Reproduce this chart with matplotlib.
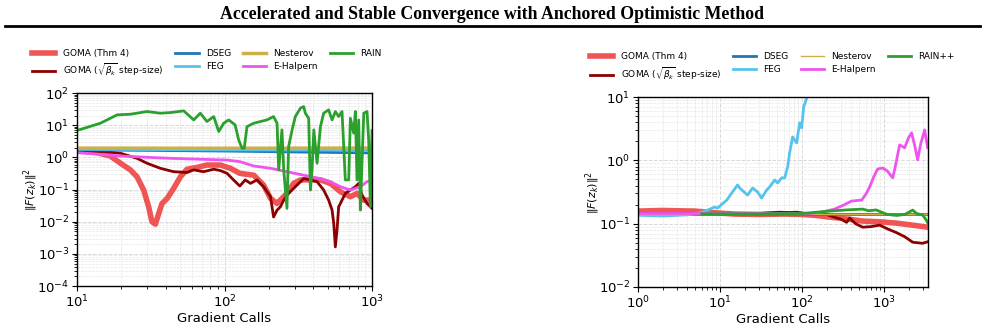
import numpy as np
import matplotlib
matplotlib.use("Agg")
import matplotlib.pyplot as plt
from matplotlib.lines import Line2D

# ---- left panel: gradient calls vs ||F(z_k)||^2 ----
L_goma_x = [10, 13.7, 16.8, 19.7, 23, 25.5, 28.3, 30.6, 32.2, 34, 35.8, 37.7, 40.8, 45.2, 50.2,
            55.7, 65.1, 76, 93.7, 109.6, 127, 158, 184, 205, 227, 252, 265, 294, 327, 382,
            447, 522, 610, 713, 791, 879, 1000]
L_goma_y = [1.63, 1.41, 1.11, 0.66, 0.41, 0.25, 0.097, 0.029, 0.010, 0.0084, 0.018, 0.037, 0.053,
            0.109, 0.25, 0.43, 0.49, 0.58, 0.58, 0.46, 0.32, 0.28, 0.138, 0.053, 0.037, 0.060,
            0.076, 0.156, 0.20, 0.20, 0.20, 0.156, 0.086, 0.060, 0.076, 0.047, 0.047]

L_gomasq_x = [10, 15.2, 19.7, 25.5, 29.8, 36.7, 45.2, 55.7, 61.8, 72, 84.5, 93.7, 104, 115, 127,
              138, 150, 166, 184, 205, 215, 227, 239, 252, 265, 287, 310, 344, 382, 424, 470,
              508, 536, 550, 564, 579, 594, 626, 659, 713, 771, 812, 855, 925, 1000]
L_gomasq_y = [1.63, 1.52, 1.35, 0.94, 0.66, 0.46, 0.36, 0.34, 0.41, 0.36, 0.43, 0.39, 0.32, 0.20,
              0.129, 0.20, 0.156, 0.20, 0.123, 0.060, 0.014, 0.023, 0.029, 0.047, 0.068, 0.097,
              0.138, 0.22, 0.20, 0.176, 0.097, 0.047, 0.023, 0.0088, 0.00165, 0.0055, 0.029,
              0.047, 0.076, 0.097, 0.123, 0.156, 0.068, 0.037, 0.026]

L_dseg_x = [10, 100, 1000]
L_dseg_y = [1.73, 1.58, 1.38]
L_feg_x = [10, 100, 1000]
L_feg_y = [1.80, 1.72, 1.68]
L_nest_x = [10, 100, 1000]
L_nest_y = [1.95, 1.93, 1.96]

L_halp_x = [10, 19.7, 29.8, 43, 72, 104, 127, 158, 205, 265, 344, 447, 522, 610, 713, 834, 925, 1000]
L_halp_y = [1.41, 1.11, 1.01, 0.94, 0.87, 0.83, 0.74, 0.54, 0.46, 0.36, 0.28, 0.22, 0.176, 0.123,
            0.097, 0.123, 0.176, 0.19]

L_rain_x = [10, 14.4, 18.7, 23, 29.8, 36.7, 43, 52.9, 61.8, 68.5, 76, 84.5, 91.3, 98.7, 106.7,
            118, 124.7, 131.5, 136, 142, 157.7, 175, 194, 215, 227, 233, 245, 252, 265, 272,
            287, 302, 327, 344, 353, 372, 382, 392, 403, 424, 447, 470, 508, 536, 564, 594,
            626, 659, 695, 713, 751, 771, 791, 812, 834, 855, 879, 925, 949, 975, 1000]
L_rain_y = [6.9, 11.6, 21.1, 22.1, 26.8, 23.8, 24.9, 28.1, 14.7, 23.8, 13.1, 18.7, 6.4, 11.6,
            14.7, 10.3, 3.5, 1.93, 1.93, 9.1, 11.6, 13.1, 14.7, 18.7, 11.6, 0.41, 7.2, 0.41,
            0.026, 2.17, 7.2, 18.7, 34, 38.4, 23.8, 16.6, 0.097, 0.41, 7.2, 0.66, 9.1, 23.8,
            30.2, 14.7, 26.8, 18.7, 26.8, 0.20, 0.20, 16.6, 5.7, 26.8, 0.20, 14.7, 0.023, 0.66,
            23.8, 26.8, 3.5, 0.029, 6.9]

# ---- right panel ----
R_goma_x = [1, 2, 3, 5, 8, 15, 30, 60, 100, 150, 217, 300, 550, 900, 1429, 2200, 3440]
R_goma_y = [0.158, 0.162, 0.160, 0.158, 0.150, 0.142, 0.140, 0.142, 0.140, 0.135, 0.127, 0.122,
            0.110, 0.107, 0.102, 0.095, 0.088]

R_gomasq_x = [1, 10, 30, 53, 70, 86, 120, 200, 265, 300, 350, 381, 450, 550, 700, 885, 1100,
              1429, 1800, 2240, 2950, 3440]
R_gomasq_y = [0.145, 0.145, 0.145, 0.152, 0.150, 0.152, 0.142, 0.140, 0.123, 0.118, 0.105, 0.123,
              0.100, 0.088, 0.090, 0.095, 0.083, 0.072, 0.062, 0.051, 0.049, 0.052]

R_dseg_x = [1, 3440]
R_dseg_y = [0.144, 0.144]
R_nest_x = [1, 3440]
R_nest_y = [0.144, 0.144]

R_feg_x = [1, 2, 4, 5.5, 7.07, 8.61, 9.37, 12.1, 13.9, 16.4, 17.4, 21.7, 25, 28.8, 32.2, 37.1,
           40.3, 46.4, 50.5, 56.5, 61.5, 66.9, 70.7, 76.9, 86.1, 93.7, 99.1, 105, 117]
R_feg_y = [0.136, 0.132, 0.138, 0.146, 0.164, 0.183, 0.177, 0.236, 0.305, 0.41, 0.366, 0.283,
           0.366, 0.316, 0.254, 0.34, 0.38, 0.49, 0.44, 0.53, 0.53, 0.79, 1.31, 2.35, 1.89, 3.92,
           3.27, 7.03, 10.5]

R_halp_x = [1, 130, 180, 250, 330, 403, 534, 600, 669, 750, 837, 964, 1100, 1276, 1349, 1553,
            1786, 2000, 2175, 2400, 2573, 2800, 3133, 3410]
R_halp_y = [0.145, 0.145, 0.154, 0.17, 0.20, 0.228, 0.236, 0.29, 0.38, 0.55, 0.73, 0.76, 0.68,
            0.53, 0.71, 1.76, 1.58, 2.3, 2.72, 1.6, 1.02, 1.8, 3.03, 1.58]

R_rain_x = [6, 30, 100, 217, 350, 550, 650, 800, 960, 1100, 1429, 1800, 2240, 2500, 2950, 3200, 3440]
R_rain_y = [0.143, 0.143, 0.145, 0.158, 0.165, 0.170, 0.160, 0.165, 0.150, 0.140, 0.135, 0.140,
            0.164, 0.145, 0.137, 0.120, 0.102]

C_GOMA = "#f05555"
C_GOMASQ = "#8b0000"
C_DSEG = "#1f77b4"
C_FEG = "#56c3ec"
C_NEST = "#cdb04a"
C_HALP = "#ee55ee"
C_RAIN = "#2ca02c"

fig = plt.figure(figsize=(9.85, 3.28), dpi=100)

fig.text(0.5, 0.955, "Accelerated and Stable Convergence with Anchored Optimistic Method",
         ha="center", va="center", family="Liberation Serif", weight="bold", fontsize=12.8)
fig.add_artist(Line2D([0.005, 0.995], [0.921, 0.921], transform=fig.transFigure,
                      color="black", lw=2))


def style_axes(ax):
    ax.set_xscale("log")
    ax.set_yscale("log")
    ax.grid(True, which="major", ls="--", color="#d8d8d8", lw=0.7)
    ax.grid(True, which="minor", ls="--", color="#e6e6e6", lw=0.5)
    ax.tick_params(labelsize=9.5, pad=2)
    ax.set_xlabel("Gradient Calls", fontsize=9.5, labelpad=1)
    ax.set_ylabel(r"$\|F(z_k)\|^2$", fontsize=8)
    for s in ax.spines.values():
        s.set_linewidth(1.0)


leg_kw = dict(loc="center", ncol=4, frameon=False, fontsize=6.5, handlelength=2.6,
              columnspacing=1.3, labelspacing=0.45, handletextpad=0.8)

# left
ax1 = fig.add_axes([0.0782, 0.128, 0.2995, 0.588])
ax1.plot(L_goma_x, L_goma_y, color=C_GOMA, lw=4, label="GOMA (Thm 4)")
ax1.plot(L_gomasq_x, L_gomasq_y, color=C_GOMASQ, lw=2, label=r"GOMA ($\sqrt{\beta_k}$ step-size)")
ax1.plot(L_dseg_x, L_dseg_y, color=C_DSEG, lw=2, label="DSEG")
ax1.plot(L_feg_x, L_feg_y, color=C_FEG, lw=2, label="FEG")
ax1.plot(L_nest_x, L_nest_y, color=C_NEST, lw=2.5, label="Nesterov")
ax1.plot(L_halp_x, L_halp_y, color=C_HALP, lw=2, label="E-Halpern")
ax1.plot(L_rain_x, L_rain_y, color=C_RAIN, lw=2, label="RAIN")
style_axes(ax1)
ax1.set_xlim(10, 1000)
ax1.set_ylim(1e-4, 1e2)
ax1.yaxis.set_label_coords(-0.125, 0.5)
fig.legend(*ax1.get_legend_handles_labels(), bbox_to_anchor=(0.21, 0.806), **leg_kw)

# right
ax2 = fig.add_axes([0.6477, 0.125, 0.2944, 0.579])
ax2.plot(R_goma_x, R_goma_y, color=C_GOMA, lw=4, label="GOMA (Thm 4)")
ax2.plot(R_gomasq_x, R_gomasq_y, color=C_GOMASQ, lw=2, label=r"GOMA ($\sqrt{\beta_k}$ step-size)")
ax2.plot(R_dseg_x, R_dseg_y, color=C_DSEG, lw=2, label="DSEG")
ax2.plot(R_feg_x, R_feg_y, color=C_FEG, lw=2, label="FEG")
ax2.plot(R_nest_x, R_nest_y, color=C_NEST, lw=1, label="Nesterov")
ax2.plot(R_halp_x, R_halp_y, color=C_HALP, lw=2, label="E-Halpern")
ax2.plot(R_rain_x, R_rain_y, color=C_RAIN, lw=2, label="RAIN++")
style_axes(ax2)
ax2.set_xlim(1, 3440)
ax2.set_ylim(1e-2, 1e1)
ax2.yaxis.set_label_coords(-0.125, 0.5)
fig.legend(*ax2.get_legend_handles_labels(), bbox_to_anchor=(0.784, 0.795), **leg_kw)

fig.savefig("out.png", dpi=100)
